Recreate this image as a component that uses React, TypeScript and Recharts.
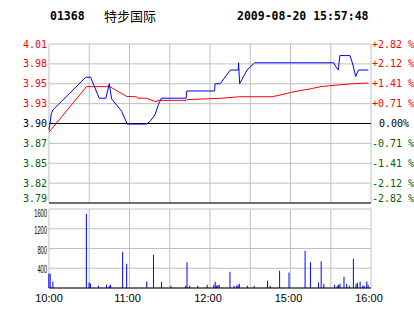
import { LineChart, Line, XAxis, YAxis, CartesianGrid, ReferenceLine, BarChart, Bar } from 'recharts'

// price line vertices (minute from 10:00, price)
const priceMin = [0, 1.8, 3, 27.4, 31, 37.4, 42.4, 44.9, 46.7, 54.1, 58.3, 72.7, 75.3, 79, 81.5, 83.7, 102.2, 102.7, 123.4, 123.8, 127.6, 135.1, 141.1, 141.3, 142.1, 147.6, 153.3, 212.3, 213.6, 215.6, 216.8, 224.3, 226.1, 228.6, 230.6, 238]
const priceVal = [3.891, 3.914, 3.919, 3.964, 3.964, 3.935, 3.935, 3.955, 3.934, 3.917, 3.8992, 3.8992, 3.903, 3.912, 3.926, 3.935, 3.935, 3.945, 3.945, 3.955, 3.955, 3.974, 3.974, 3.984, 3.955, 3.974, 3.984, 3.984, 3.979, 3.974, 3.994, 3.994, 3.984, 3.965, 3.974, 3.974]

// average price line
const avgMin = [0, 28, 45.4, 57.9, 65.3, 66.1, 72.8, 76.6, 80.3, 80.7, 102.2, 102.7, 128.9, 141.3, 166.3, 173.8, 180, 188.7, 195, 202.4, 213.6, 226.1, 238]
const avgVal = [3.888, 3.951, 3.951, 3.9375, 3.937, 3.935, 3.935, 3.932, 3.93, 3.932, 3.932, 3.933, 3.935, 3.937, 3.937, 3.94, 3.943, 3.946, 3.948, 3.951, 3.953, 3.955, 3.956]

// volume per minute
const volMin = [0, 1, 3, 28, 30, 31, 37, 43, 45, 46, 55, 58, 73, 78, 84, 91, 102, 103, 105, 111, 118, 123, 124, 125, 126, 127, 135, 138, 140, 141, 142, 148, 153, 163, 165, 172, 179, 191, 195, 201, 203, 205, 213, 215, 216, 217, 220, 222, 224, 227, 229, 230, 232, 234, 235, 237, 238]
const volVal = [290, 290, 134, 1505, 113, 93, 47, 67, 47, 67, 729, 492, 134, 674, 128, 47, 47, 519, 47, 47, 67, 67, 128, 47, 60, 67, 330, 47, 47, 67, 87, 47, 47, 148, 47, 350, 316, 755, 519, 113, 539, 87, 67, 47, 67, 87, 229, 87, 47, 593, 87, 108, 134, 47, 47, 134, 67]

const priceTicks = [3.79, 3.8175, 3.845, 3.8725, 3.9, 3.9275, 3.955, 3.9825, 4.01]
const priceLabels = ['3.79', '3.82', '3.85', '3.87', '3.90', '3.93', '3.95', '3.98', '4.01']
const pctLabels = ['-2.82 %', '-2.12 %', '-1.41 %', '-0.71 %', '0.00%', '+0.71 %', '+1.41 %', '+2.12 %', '+2.82 %']
const volTicks = [0, 400, 800, 1200, 1600]
const timeTicks = [0, 30, 60, 90, 120, 150, 180, 210, 240]
const timeLabels = ['10:00', '', '11:00', '', '12:00', '', '15:00', '', '16:00']

const RED = '#ff0000'
const GREEN = '#006000'
const MONO = '"DejaVu Sans Mono", monospace'
const SANS = '"Liberation Sans", Arial, sans-serif'

// merge both line series on one minute axis
const lineData = (() => {
  const rows: Record<number, any> = {}
  priceMin.forEach((m, i) => { rows[m] = { ...(rows[m] || { m }), price: priceVal[i] } })
  avgMin.forEach((m, i) => { rows[m] = { ...(rows[m] || { m }), avg: avgVal[i] } })
  return Object.values(rows).sort((a, b) => a.m - b.m)
})()

const volData = volMin.map((m, i) => ({ m, vol: volVal[i] }))

function tickColor(i: number) {
  if (i === 4) return '#000'
  return i > 4 ? RED : GREEN
}

function PriceTick(props: any) {
  const { x, y, index } = props
  const yy = index === 0 ? y - 5 : y
  return (
    <text x={x} y={yy} dy="0.36em" textAnchor="end" fontFamily={MONO} fontSize={10} fill={tickColor(index)}>
      {priceLabels[index]}
    </text>
  )
}

function PctTick(props: any) {
  const { x, y, index } = props
  const yy = index === 0 ? y - 5 : y
  const label = pctLabels[index]
  return (
    <text x={index === 4 ? x + 7 : x} y={yy} dy="0.36em" textAnchor="start" fontFamily={MONO} fontSize={10} fill={tickColor(index)}>
      {label}
    </text>
  )
}

function VolTick(props: any) {
  const { x, y, payload } = props
  if (payload.value === 0) return null
  const s = String(payload.value)
  const yy = payload.value === 1600 ? y + 4 : y + 1.5
  return (
    <text x={x} y={yy} dy="0.36em" textAnchor="end" fontFamily={SANS} fontSize={10} fill="#000"
      textLength={s.length * 3.2} lengthAdjust="spacingAndGlyphs">
      {s}
    </text>
  )
}

function TimeTick(props: any) {
  const { x, y, index } = props
  const label = timeLabels[index]
  if (!label) return null
  return (
    <text x={index === 0 ? x : x - 2} y={y + 14} textAnchor="middle" fontFamily={SANS} fontSize={11} fill="#000">
      {label}
    </text>
  )
}

export default function App() {
  return (
    <div style={{ position: 'absolute', left: 0, top: 0, width: 414, height: 314, background: '#fff' }}>
      <div style={{ position: 'absolute', left: 50, top: 9, fontFamily: MONO, fontWeight: 'bold', fontSize: 11.5, lineHeight: '14px' }}>01368</div>
      <div style={{ position: 'absolute', left: 104, top: 8, fontFamily: '"Noto Sans CJK SC", sans-serif', fontSize: 13, lineHeight: '16px' }}>特步国际</div>
      <div style={{ position: 'absolute', left: 237, top: 9, fontFamily: MONO, fontWeight: 'bold', fontSize: 11.5, lineHeight: '14px' }}>2009-08-20 15:57:48</div>

      <div style={{ position: 'absolute', left: 0, top: 0 }}>
        <LineChart width={414} height={206} data={lineData} margin={{ top: 44, right: 0, bottom: 3, left: 0 }}>
          <CartesianGrid stroke="#c0c0c0" yAxisId="p" />
          <XAxis dataKey="m" type="number" domain={[0, 240]} ticks={timeTicks} hide />
          <YAxis yAxisId="p" type="number" domain={[3.79, 4.01]} ticks={priceTicks} allowDataOverflow
            width={49} axisLine={false} tickLine={false} tickSize={0} tickMargin={2} tick={<PriceTick />} interval={0} />
          <YAxis yAxisId="r" orientation="right" type="number" domain={[3.79, 4.01]} ticks={priceTicks} allowDataOverflow
            width={43} axisLine={false} tickLine={false} tickSize={0} tickMargin={1} tick={<PctTick />} interval={0} />
          <ReferenceLine yAxisId="p" y={3.9} stroke="#000" />
          <ReferenceLine yAxisId="p" y={3.79} stroke="#000" />
          <Line yAxisId="p" type="linear" dataKey="avg" stroke={RED} strokeWidth={1} dot={false} connectNulls isAnimationActive={false} />
          <Line yAxisId="p" type="linear" dataKey="price" stroke="#0000ff" strokeWidth={1} dot={false} connectNulls isAnimationActive={false} />
        </LineChart>
      </div>

      <div style={{ position: 'absolute', left: 0, top: 205 }}>
        <BarChart width={414} height={109} data={volData} margin={{ top: 4, right: 43, bottom: 0, left: 0 }}>
          <CartesianGrid stroke="#c0c0c0" />
          <XAxis dataKey="m" type="number" domain={[0, 240]} ticks={timeTicks} height={26} interval={0}
            axisLine={{ stroke: '#000' }} tickLine={false} tickSize={0} tickMargin={0} tick={<TimeTick />} />
          <YAxis type="number" domain={[0, 1600]} ticks={volTicks} width={49} axisLine={false} tickLine={false}
            tickSize={0} tickMargin={2} tick={<VolTick />} interval={0} />
          <Bar dataKey="vol" fill="#0000ff" barSize={1} isAnimationActive={false} />
        </BarChart>
      </div>
    </div>
  )
}
